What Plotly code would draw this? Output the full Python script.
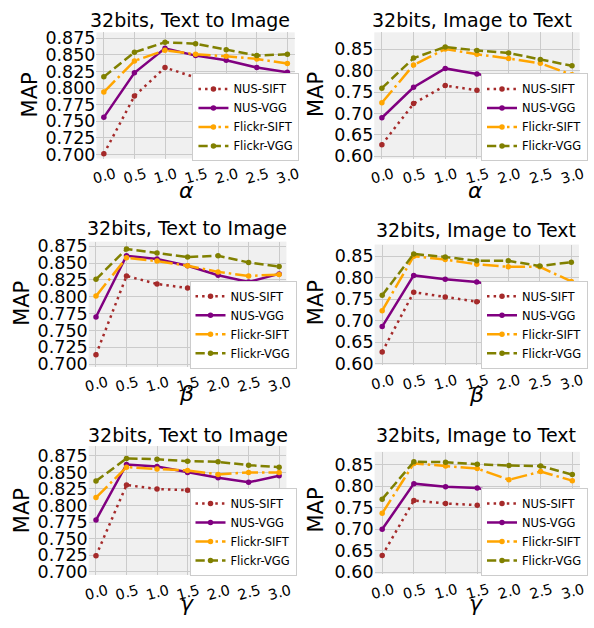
import plotly.graph_objects as go

W, H = 594, 628

x_vals = [0.0, 0.5, 1.0, 1.5, 2.0, 2.5, 3.0]
series_names = ["NUS-SIFT", "NUS-VGG", "Flickr-SIFT", "Flickr-VGG"]
panel_titles = ["32bits, Text to Image", "32bits, Image to Text"] * 3
x_labels = ["α", "α", "β", "β", "γ", "γ"]
y_label = "MAP"

# alpha, Text to Image
a_t2i_nus_sift = [0.701, 0.788, 0.831, 0.816, 0.803, 0.795, 0.774]
a_t2i_nus_vgg = [0.756, 0.823, 0.860, 0.849, 0.842, 0.831, 0.824]
a_t2i_fl_sift = [0.794, 0.841, 0.857, 0.851, 0.848, 0.844, 0.837]
a_t2i_fl_vgg = [0.817, 0.854, 0.869, 0.867, 0.858, 0.849, 0.851]
# alpha, Image to Text
a_i2t_nus_sift = [0.627, 0.723, 0.765, 0.754, 0.731, 0.712, 0.700]
a_i2t_nus_vgg = [0.690, 0.761, 0.805, 0.792, 0.781, 0.763, 0.745]
a_i2t_fl_sift = [0.725, 0.813, 0.850, 0.838, 0.828, 0.817, 0.790]
a_i2t_fl_vgg = [0.759, 0.829, 0.855, 0.847, 0.841, 0.826, 0.811]
# beta, Text to Image
b_t2i_nus_sift = [0.714, 0.831, 0.819, 0.813, 0.800, 0.787, 0.773]
b_t2i_nus_vgg = [0.770, 0.861, 0.856, 0.846, 0.832, 0.822, 0.834]
b_t2i_fl_sift = [0.801, 0.858, 0.853, 0.846, 0.837, 0.831, 0.833]
b_t2i_fl_vgg = [0.826, 0.871, 0.865, 0.859, 0.861, 0.851, 0.845]
# beta, Image to Text
b_i2t_nus_sift = [0.627, 0.766, 0.755, 0.744, 0.746, 0.729, 0.716]
b_i2t_nus_vgg = [0.686, 0.805, 0.796, 0.790, 0.777, 0.752, 0.761]
b_i2t_fl_sift = [0.723, 0.850, 0.842, 0.831, 0.825, 0.825, 0.791]
b_i2t_fl_vgg = [0.759, 0.855, 0.848, 0.839, 0.839, 0.827, 0.836]
# gamma, Text to Image
g_t2i_nus_sift = [0.724, 0.831, 0.825, 0.823, 0.805, 0.811, 0.803]
g_t2i_nus_vgg = [0.778, 0.862, 0.859, 0.850, 0.842, 0.835, 0.845]
g_t2i_fl_sift = [0.812, 0.858, 0.855, 0.853, 0.847, 0.850, 0.850]
g_t2i_fl_vgg = [0.837, 0.871, 0.870, 0.867, 0.866, 0.861, 0.858]
# gamma, Image to Text
g_i2t_nus_sift = [0.639, 0.767, 0.760, 0.756, 0.741, 0.734, 0.731]
g_i2t_nus_vgg = [0.700, 0.806, 0.799, 0.796, 0.781, 0.765, 0.765]
g_i2t_fl_sift = [0.737, 0.853, 0.847, 0.841, 0.815, 0.834, 0.813]
g_i2t_fl_vgg = [0.770, 0.857, 0.856, 0.851, 0.848, 0.847, 0.827]

panel_data = [
    [a_t2i_nus_sift, a_t2i_nus_vgg, a_t2i_fl_sift, a_t2i_fl_vgg],
    [a_i2t_nus_sift, a_i2t_nus_vgg, a_i2t_fl_sift, a_i2t_fl_vgg],
    [b_t2i_nus_sift, b_t2i_nus_vgg, b_t2i_fl_sift, b_t2i_fl_vgg],
    [b_i2t_nus_sift, b_i2t_nus_vgg, b_i2t_fl_sift, b_i2t_fl_vgg],
    [g_t2i_nus_sift, g_t2i_nus_vgg, g_t2i_fl_sift, g_t2i_fl_vgg],
    [g_i2t_nus_sift, g_i2t_nus_vgg, g_i2t_fl_sift, g_i2t_fl_vgg],
]

# ---- styling / layout (pixels) ----
colors = ["#A52A2A", "#800080", "#FFA500", "#808000"]
dashes = ["2.5px,4.1px", "solid", "16px,4px,2.5px,4px", "9.25px,4px"]
FONT = "DejaVu Sans"

# (x of 0.0 gridline, x of 3.0 gridline, top, bottom, y range, tick0, dtick, fmt)
panels = [
    (100.7, 287.7, 28, 157, [0.694, 0.884], 0.7, 0.025, ".3f"),
    (384.0, 577.7, 28, 157, [0.595, 0.889], 0.6, 0.05, ".2f"),
    (92.7, 279.3, 242, 370, [0.696, 0.882], 0.7, 0.025, ".3f"),
    (384.3, 577.0, 245, 368, [0.597, 0.877], 0.6, 0.05, ".2f"),
    (92.7, 279.3, 451, 583, [0.695, 0.890], 0.7, 0.025, ".3f"),
    (384.3, 578.0, 457, 582, [0.596, 0.880], 0.6, 0.05, ".2f"),
]
XR = [-0.12, 3.12]
legend_pos = [(300, 160), (594, 160), (297, 372), (594, 372), (297, 584), (594, 584)]
title_pos = [(188, 15), (476, 15), (185, 228), (480, 230), (186, 440), (480, 440)]
ylab_pos = [(25, 92), (317, 92), (18, 305), (317, 305), (18, 517), (317, 517)]
xlab_pos = [(185, 190), (479, 190), (185, 397), (480, 398), (185, 612), (480, 612)]

fig = go.Figure()
layout = dict(
    width=W, height=H, margin=dict(l=0, r=0, t=0, b=0),
    paper_bgcolor="white", plot_bgcolor="#F0F0F0",
    font=dict(family=FONT, color="black"),
    annotations=[],
)

for i, (g0, g3, top, bot, yr, t0, dt, fmt) in enumerate(panels):
    n = i + 1
    ax = "" if n == 1 else str(n)
    ppu = (g3 - g0) / 3.0
    x0 = g0 + XR[0] * ppu
    x1 = g3 + (XR[1] - 3.0) * ppu
    leg = "legend" if n == 1 else f"legend{n}"
    for s in range(4):
        fig.add_trace(go.Scatter(
            x=x_vals, y=panel_data[i][s], name=series_names[s],
            mode="lines+markers",
            line=dict(color=colors[s], width=2.5, dash=dashes[s]),
            marker=dict(color=colors[s], size=5.5),
            xaxis="x" + ax, yaxis="y" + ax, legend=leg,
        ))
    layout["xaxis" + ax] = dict(
        domain=[x0 / W, x1 / W], range=XR, anchor="y" + ax,
        tickvals=x_vals, ticktext=[f"{v:.1f}" for v in x_vals],
        tickangle=-15, tickfont=dict(size=14.5, family=FONT),
        ticklabelshift=11, ticklabelstandoff=4,
        showgrid=True, gridcolor="#CBCBCB", gridwidth=1,
        zeroline=False, showline=False, ticks="",
    )
    layout["yaxis" + ax] = dict(
        domain=[1 - bot / H, 1 - top / H], range=yr, anchor="x" + ax,
        tick0=t0, dtick=dt, tickformat=fmt,
        tickfont=dict(size=17.5, family=FONT),
        showgrid=True, gridcolor="#CBCBCB", gridwidth=1,
        zeroline=False, showline=False, ticks="",
    )
    lx, ly = legend_pos[i]
    layout[leg] = dict(
        x=lx / W, y=1 - ly / H, xanchor="right", yanchor="bottom",
        bgcolor="white", bordercolor="#CCCCCC", borderwidth=1,
        font=dict(size=11.5, family=FONT), itemwidth=30, tracegroupgap=0,
    )
    tx, ty = title_pos[i]
    layout["annotations"].append(dict(
        text=panel_titles[i], x=tx / W, y=1 - ty / H, xref="paper", yref="paper",
        showarrow=False, font=dict(size=19, family=FONT),
        xanchor="center", yanchor="middle"))
    mx, my = ylab_pos[i]
    layout["annotations"].append(dict(
        text=y_label, x=mx / W, y=1 - my / H, xref="paper", yref="paper",
        showarrow=False, textangle=-90, font=dict(size=21, family=FONT),
        xanchor="center", yanchor="middle"))
    bx, by = xlab_pos[i]
    layout["annotations"].append(dict(
        text=f"<i>{x_labels[i]}</i>", x=bx / W, y=1 - by / H, xref="paper", yref="paper",
        showarrow=False, font=dict(size=22, family=FONT),
        xanchor="center", yanchor="middle"))

fig.update_layout(**layout)
fig.write_html(
    "out.html",
    config={"displayModeBar": False},
    post_script="document.body.style.margin='0px';document.body.style.overflow='hidden';",
)
